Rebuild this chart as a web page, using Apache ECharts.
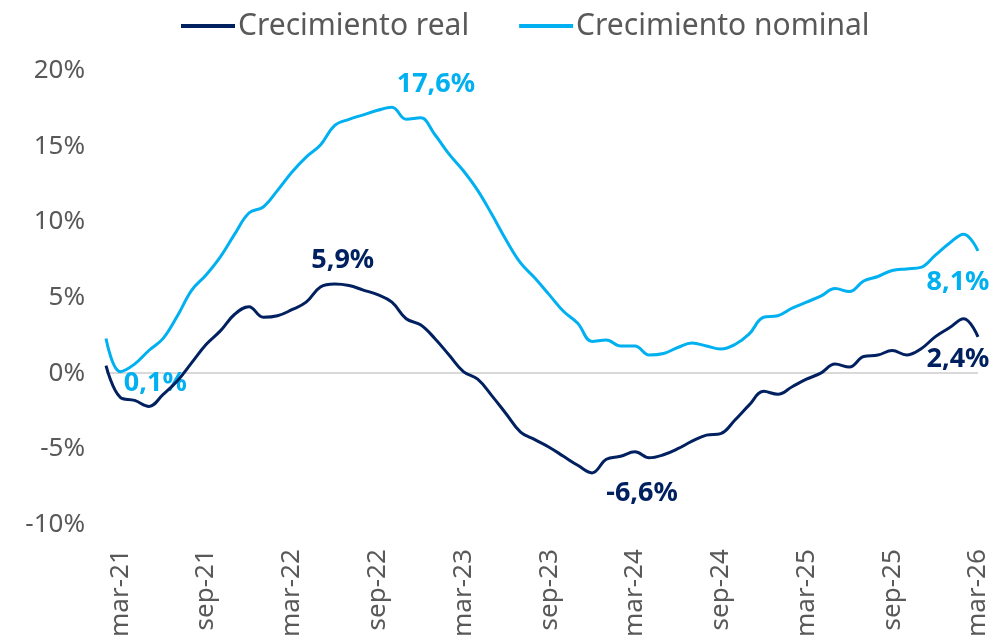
<!DOCTYPE html>
<html lang="es">
<head>
    <meta charset="utf-8">
    <title>Crecimiento real y nominal</title>
    <script src="https://cdn.jsdelivr.net/npm/echarts@6/dist/echarts.min.js"></script>
    <style>
        html, body { margin: 0; padding: 0; background: #fff; }
        #chart { width: 996px; height: 640px; }
    </style>
</head>
<body>
<div id="chart"></div>
<script>
    var meses = [
        'feb-21', 'mar-21', 'abr-21', 'may-21', 'jun-21', 'jul-21', 'ago-21', 'sep-21', 'oct-21', 'nov-21', 'dic-21',
        'ene-22', 'feb-22', 'mar-22', 'abr-22', 'may-22', 'jun-22', 'jul-22', 'ago-22', 'sep-22', 'oct-22', 'nov-22', 'dic-22',
        'ene-23', 'feb-23', 'mar-23', 'abr-23', 'may-23', 'jun-23', 'jul-23', 'ago-23', 'sep-23', 'oct-23', 'nov-23', 'dic-23',
        'ene-24', 'feb-24', 'mar-24', 'abr-24', 'may-24', 'jun-24', 'jul-24', 'ago-24', 'sep-24', 'oct-24', 'nov-24', 'dic-24',
        'ene-25', 'feb-25', 'mar-25', 'abr-25', 'may-25', 'jun-25', 'jul-25', 'ago-25', 'sep-25', 'oct-25', 'nov-25', 'dic-25',
        'ene-26', 'feb-26', 'mar-26'
    ];
    // etiquetas visibles del eje x
    var etiquetasX = ['mar-21', 'sep-21', 'mar-22', 'sep-22', 'mar-23', 'sep-23', 'mar-24', 'sep-24', 'mar-25', 'sep-25', 'mar-26'];

    var crecimientoReal = [
        0.5, -1.6, -1.8, -2.2, -1.4, -0.5, 0.7, 1.9, 2.8, 3.9, 4.4,
        3.7, 3.8, 4.2, 4.7, 5.7, 5.9, 5.8, 5.5, 5.2, 4.7, 3.6, 3.2,
        2.3, 1.2, 0.1, -0.4, -1.5, -2.7, -3.9, -4.4, -4.9, -5.5, -6.1, -6.6,
        -5.7, -5.5, -5.2, -5.6, -5.4, -5.0, -4.5, -4.1, -4.0, -3.1, -2.1, -1.2,
        -1.4, -0.9, -0.4, 0.0, 0.6, 0.4, 1.1, 1.2, 1.5, 1.2, 1.6, 2.4,
        3.0, 3.6, 2.4
    ];
    var crecimientoNominal = [
        2.3, 0.1, 0.6, 1.5, 2.3, 3.8, 5.5, 6.5, 7.7, 9.2, 10.6,
        11.0, 12.1, 13.3, 14.3, 15.1, 16.4, 16.8, 17.1, 17.4, 17.6, 16.8, 16.9,
        15.8, 14.5, 13.4, 12.1, 10.5, 8.8, 7.3, 6.3, 5.2, 4.1, 3.3, 2.1,
        2.2, 1.8, 1.8, 1.2, 1.3, 1.7, 2.0, 1.8, 1.6, 1.9, 2.6, 3.7,
        3.8, 4.3, 4.7, 5.1, 5.6, 5.4, 6.1, 6.4, 6.8, 6.9, 7.0, 7.8,
        8.6, 9.2, 8.1
    ];

    // puntos con etiqueta: [índice, desplazamiento x, desplazamiento y]
    var etiquetasReal = [[16, 8, -24], [34, 50, 20], [61, -20, 22]];
    var etiquetasNominal = [[1, 35, 12], [20, 44, -23], [61, -20, 32]];

    var fuente = '"Noto Sans", "DejaVu Sans", sans-serif';

    function conEtiquetas(valores, marcas, color) {
        return valores.map(function (v, i) {
            var m = marcas.filter(function (e) { return e[0] === i; })[0];
            if (!m) return v;
            return {
                value: v,
                label: {
                    show: true,
                    position: 'inside',
                    offset: [m[1], m[2]],
                    formatter: function (p) { return p.value.toFixed(1).replace('.', ',') + '%'; },
                    color: color,
                    fontFamily: fuente,
                    fontWeight: 'bold',
                    fontSize: 27
                }
            };
        });
    }

    var chart = echarts.init(document.getElementById('chart'));
    chart.setOption({
        animation: false,
        textStyle: { fontFamily: fuente },
        legend: {
            top: 6,
            left: 176,
            itemWidth: 54,
            itemHeight: 4,
            itemGap: 50,
            icon: 'rect',
            textStyle: { color: '#595959', fontSize: 30, fontFamily: fuente, padding: [0, 0, 0, -2] },
            data: ['Crecimiento real', 'Crecimiento nominal']
        },
        grid: { left: 106, right: 18, top: 71, bottom: 112 },
        xAxis: {
            type: 'category',
            data: meses,
            boundaryGap: false,
            axisLine: { show: false, onZero: false },
            axisTick: { show: false },
            axisLabel: {
                rotate: 90,
                margin: 25,
                color: '#595959',
                fontSize: 26,
                fontFamily: fuente,
                interval: function (i, v) { return etiquetasX.indexOf(v) >= 0; }
            }
        },
        yAxis: {
            type: 'value',
            min: -10,
            max: 20,
            interval: 5,
            axisLine: { show: false },
            axisTick: { show: false },
            axisLabel: {
                formatter: '{value}%',
                color: '#595959',
                fontSize: 26,
                margin: 21,
                fontFamily: fuente
            },
            splitLine: {
                show: true,
                lineStyle: {
                    color: ['transparent', 'transparent', '#d9d9d9', 'transparent', 'transparent', 'transparent', 'transparent'],
                    width: 2
                }
            }
        },
        series: [
            {
                name: 'Crecimiento real',
                type: 'line',
                data: conEtiquetas(crecimientoReal, etiquetasReal, '#002060'),
                smooth: 0.4,
                showSymbol: true,
                symbol: 'circle',
                symbolSize: 0,
                color: '#002060',
                lineStyle: { width: 3 },
                z: 3
            },
            {
                name: 'Crecimiento nominal',
                type: 'line',
                data: conEtiquetas(crecimientoNominal, etiquetasNominal, '#00B0F0'),
                smooth: 0.4,
                showSymbol: true,
                symbol: 'circle',
                symbolSize: 0,
                color: '#00B0F0',
                lineStyle: { width: 3 },
                z: 2
            }
        ]
    });
</script>
</body>
</html>
